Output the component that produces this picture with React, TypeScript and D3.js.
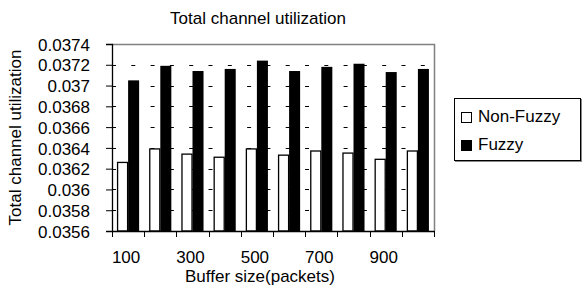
import React, { useEffect, useRef } from 'react';
import * as d3 from 'd3';

const categories = ['100', '200', '300', '400', '500', '600', '700', '800', '900', '1000'];
const shownLabels = ['100', '300', '500', '700', '900'];
const nonFuzzy = [0.03626, 0.03639, 0.03634, 0.03631, 0.03639, 0.03633, 0.03637, 0.03635, 0.03629, 0.03637];
const fuzzy = [0.03705, 0.03719, 0.03714, 0.03716, 0.03724, 0.03714, 0.03718, 0.03721, 0.03713, 0.03716];
const yTicks = [0.0356, 0.0358, 0.036, 0.0362, 0.0364, 0.0366, 0.0368, 0.037, 0.0372, 0.0374];
const seriesNames = ['Non-Fuzzy', 'Fuzzy'];

export default function App() {
  const svgRef = useRef<SVGSVGElement>(null);

  useEffect(() => {
    if (!svgRef.current) return;
    const width = 582;
    const height = 289;
    const margin = { top: 44, right: 148, bottom: 58, left: 112 };
    const innerWidth = width - margin.left - margin.right;
    const innerHeight = height - margin.top - margin.bottom;
    const font = 'Liberation Sans, Arial, sans-serif';
    const fs = 17;

    d3.select(svgRef.current).selectAll('*').remove();
    const svg = d3.select(svgRef.current)
      .attr('width', width)
      .attr('height', height)
      .style('font-family', font);

    svg.append('rect').attr('width', width).attr('height', height).attr('fill', '#fff');

    const g = svg.append('g').attr('transform', `translate(${margin.left},${margin.top})`);

    const x = d3.scaleBand().domain(categories).range([0, innerWidth]).paddingInner(0).paddingOuter(0);
    const inner = d3.scaleBand().domain(seriesNames).range([0, x.bandwidth()]).paddingInner(0).paddingOuter(0.46);
    const y = d3.scaleLinear().domain([0.0356, 0.0374]).range([innerHeight, 0]);

    // dashed gridlines
    g.append('g')
      .selectAll('line')
      .data(yTicks.slice(1, -1))
      .join('line')
      .attr('x1', 0)
      .attr('x2', innerWidth)
      .attr('y1', d => Math.round(y(d)) + 0.5)
      .attr('y2', d => Math.round(y(d)) + 0.5)
      .attr('stroke', '#000')
      .attr('stroke-dasharray', '4,15.3');

    // plot border (top/right gray)
    g.append('path')
      .attr('d', `M0.5,0.5H${innerWidth + 0.5}V${innerHeight}`)
      .attr('fill', 'none')
      .attr('stroke', '#808080')
      .attr('stroke-width', 1.5);

    const groups = g.append('g')
      .selectAll('g')
      .data(categories)
      .join('g')
      .attr('transform', d => `translate(${x(d)},0)`);

    groups.append('rect')
      .attr('x', inner('Non-Fuzzy')! + 0.5)
      .attr('width', inner.bandwidth() - 1)
      .attr('y', (d, i) => y(nonFuzzy[i]))
      .attr('height', (d, i) => innerHeight - y(nonFuzzy[i]))
      .attr('fill', '#fff')
      .attr('stroke', '#000')
      .attr('stroke-width', 1.3);

    groups.append('rect')
      .attr('x', inner('Fuzzy')!)
      .attr('width', inner.bandwidth())
      .attr('y', (d, i) => y(fuzzy[i]))
      .attr('height', (d, i) => innerHeight - y(fuzzy[i]))
      .attr('fill', '#000');

    // y axis
    const yAxis = g.append('g')
      .call(d3.axisLeft(y).tickValues(yTicks).tickSize(6).tickFormat(d => String(+d)));
    yAxis.select('.domain').attr('stroke', '#000').attr('stroke-width', 1.3);
    yAxis.selectAll('text')
      .attr('font-size', fs)
      .attr('font-family', font)
      .attr('fill', '#000')
      .attr('x', -22)
      .attr('dy', '0.36em');

    // x axis
    const xAxis = g.append('g')
      .attr('transform', `translate(0,${innerHeight})`)
      .call(d3.axisBottom(x).tickSize(0).tickFormat(d => (shownLabels.includes(d) ? d : '')));
    xAxis.select('.domain').attr('stroke', '#000').attr('stroke-width', 1.3);
    xAxis.selectAll('text')
      .attr('font-size', fs)
      .attr('font-family', font)
      .attr('fill', '#000')
      .attr('y', 20)
      .attr('dx', -2);
    xAxis.selectAll('.boundary')
      .data(categories.concat(['end']))
      .join('line')
      .attr('class', 'boundary')
      .attr('x1', (d, i) => Math.round(i * x.step()) + 0.5)
      .attr('x2', (d, i) => Math.round(i * x.step()) + 0.5)
      .attr('y1', 0)
      .attr('y2', 6)
      .attr('stroke', '#000');

    // titles
    svg.append('text')
      .attr('x', 258)
      .attr('y', 24)
      .attr('text-anchor', 'middle')
      .attr('font-size', fs)
      .text('Total channel utilization');

    svg.append('text')
      .attr('x', margin.left + innerWidth / 2 - 13)
      .attr('y', 282)
      .attr('text-anchor', 'middle')
      .attr('font-size', fs)
      .text('Buffer size(packets)');

    svg.append('text')
      .attr('transform', `translate(21,${margin.top + innerHeight / 2}) rotate(-90)`)
      .attr('text-anchor', 'middle')
      .attr('font-size', fs)
      .text('Total channel utilization');

    // legend
    const legend = svg.append('g').attr('transform', 'translate(454,98)');
    legend.append('rect')
      .attr('x', 1).attr('y', 1)
      .attr('width', 127).attr('height', 63)
      .attr('fill', '#888');
    legend.append('rect')
      .attr('x', 0.5).attr('y', 0.5)
      .attr('width', 126).attr('height', 62)
      .attr('fill', '#fff')
      .attr('stroke', '#000');
    seriesNames.forEach((name, i) => {
      const ly = 18 + i * 28;
      legend.append('rect')
        .attr('x', 7.5).attr('y', ly - 3.5)
        .attr('width', 10).attr('height', 10)
        .attr('fill', i === 0 ? '#fff' : '#000')
        .attr('stroke', '#000');
      legend.append('text')
        .attr('x', 24)
        .attr('y', ly + 6)
        .attr('font-size', fs)
        .text(name);
    });
  }, []);

  return (
    <div style={{ position: 'absolute', left: 0, top: 0 }}>
      <svg ref={svgRef} style={{ display: 'block' }} />
    </div>
  );
}
